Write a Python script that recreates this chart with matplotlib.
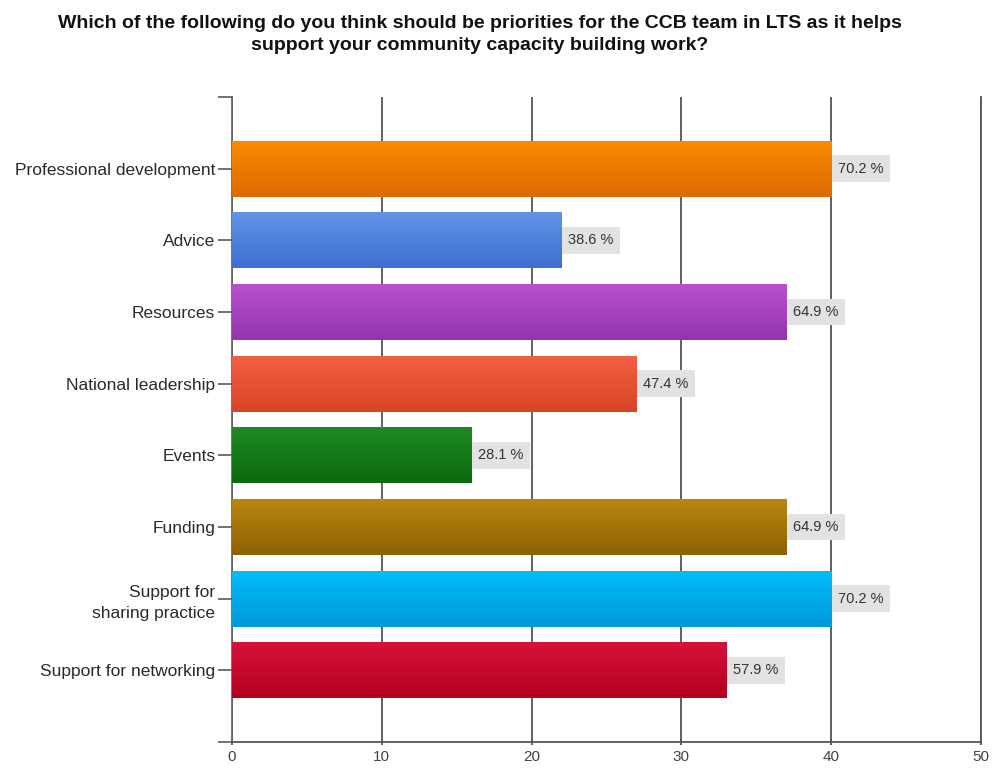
import numpy as np
import matplotlib
matplotlib.use("Agg")
import matplotlib.pyplot as plt
from matplotlib.colors import LinearSegmentedColormap

plt.rcParams['font.family'] = ['Liberation Sans', 'DejaVu Sans']

categories = ["Professional development", "Advice", "Resources", "National leadership",
              "Events", "Funding", "Support for\nsharing practice", "Support for networking"]
counts = [40, 22, 37, 27, 16, 37, 40, 33]
percents = ["70.2 %", "38.6 %", "64.9 %", "47.4 %", "28.1 %", "64.9 %", "70.2 %", "57.9 %"]
top_colors = ["#F98A00", "#6094E8", "#BA50D0", "#F55E40", "#1E8A24", "#B8870F", "#00BCF8", "#D6123A"]
bottom_colors = ["#DD6A00", "#3F6FCF", "#9235AE", "#D94427", "#0B6A0E", "#8E6205", "#0099DA", "#B50020"]
xticks = [0, 10, 20, 30, 40, 50]

fig = plt.figure(figsize=(9.94, 7.70), dpi=100)
ax = fig.add_axes([0.2334, 0.0364, 0.7535, 0.8377])

fig.text(0.483, 0.955, "Which of the following do you think should be priorities for the CCB team in LTS as it helps\n"
         "support your community capacity building work?",
         ha='center', va='center', fontsize=14, fontweight='bold', color='#111111', linespacing=1.4)

ypos = np.arange(len(categories))
h = 0.78
bars = ax.barh(ypos, counts, height=h, color=top_colors, edgecolor='none', zorder=2)

# vertical gradient on each bar
grad = np.linspace(0, 1, 64).reshape(-1, 1)
for i, b in enumerate(bars):
    cmap = LinearSegmentedColormap.from_list("g%d" % i, [top_colors[i], bottom_colors[i]])
    im = ax.imshow(grad, cmap=cmap, aspect='auto', zorder=3, interpolation='bilinear',
                   extent=(0, counts[i], ypos[i] + h / 2, ypos[i] - h / 2))
    im.set_clip_path(b)
    ax.text(counts[i] + 0.45, ypos[i], percents[i], va='center', ha='left', fontsize=10.5,
            color='#333333', zorder=4,
            bbox=dict(facecolor='#e2e2e2', edgecolor='none', pad=4.5))

ax.set_xlim(0, 50)
ax.set_ylim(len(categories), -1)
ax.set_xticks(xticks)
ax.set_yticks(ypos)
ax.set_yticklabels(categories, fontsize=12.5, color='#2a2a2a', linespacing=1.45)
ax.set_yticks([-1, len(categories)], minor=True)
ax.tick_params(axis='y', which='both', length=10, width=1.3, color='#666666', pad=2)
ax.tick_params(axis='x', length=4, width=1.3, color='#555555', direction='inout',
               labelsize=11, labelcolor='#444444', pad=4)

ax.grid(axis='x', color='#555555', linewidth=1.3, zorder=1)
ax.set_axisbelow(True)
ax.spines['top'].set_visible(False)
ax.spines['right'].set_color('#555555')
ax.spines['right'].set_linewidth(1.3)
ax.spines['left'].set_color('#666666')
ax.spines['left'].set_linewidth(1.3)
ax.spines['bottom'].set_color('#555555')
ax.spines['bottom'].set_linewidth(1.3)

fig.savefig("out.png", dpi=100)
